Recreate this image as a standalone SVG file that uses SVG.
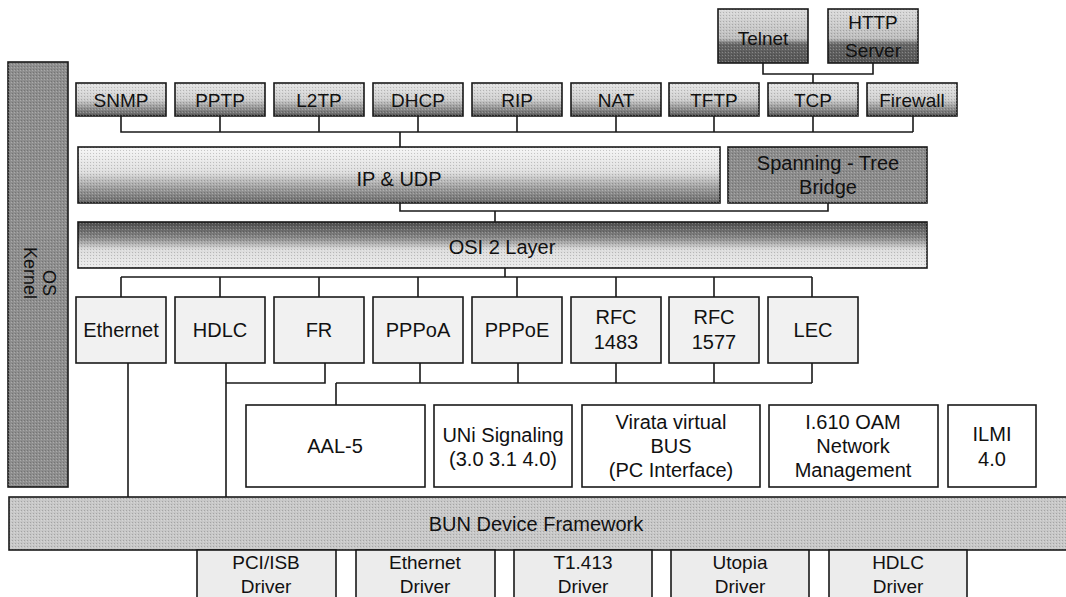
<svg xmlns="http://www.w3.org/2000/svg" width="1066" height="597" viewBox="0 0 1066 597">
<defs>
  <linearGradient id="gTop" x1="0" y1="0" x2="0" y2="1">
    <stop offset="0" stop-color="#e6e6e6"/>
    <stop offset="0.5" stop-color="#cfcfcf"/>
    <stop offset="0.8" stop-color="#8a8a8a"/>
    <stop offset="1" stop-color="#5a5a5a"/>
  </linearGradient>
  <linearGradient id="gApp" x1="0" y1="0" x2="0" y2="1">
    <stop offset="0" stop-color="#dcdcdc"/>
    <stop offset="0.55" stop-color="#bdbdbd"/>
    <stop offset="0.65" stop-color="#666"/>
    <stop offset="1" stop-color="#555"/>
  </linearGradient>
  <linearGradient id="gIP" x1="0" y1="0" x2="0" y2="1">
    <stop offset="0" stop-color="#f6f6f6"/>
    <stop offset="0.45" stop-color="#dedede"/>
    <stop offset="0.75" stop-color="#9a9a9a"/>
    <stop offset="1" stop-color="#6a6a6a"/>
  </linearGradient>
  <linearGradient id="gOSI" x1="0" y1="0" x2="0" y2="1">
    <stop offset="0" stop-color="#4a4a4a"/>
    <stop offset="0.35" stop-color="#8a8a8a"/>
    <stop offset="0.6" stop-color="#dcdcdc"/>
    <stop offset="1" stop-color="#ececec"/>
  </linearGradient>
  <pattern id="dots" width="3" height="3" patternUnits="userSpaceOnUse">
    <rect x="0" y="0" width="1" height="1" fill="#000" fill-opacity="0.18"/>
    <rect x="2" y="1" width="1" height="1" fill="#fff" fill-opacity="0.25"/>
  </pattern>
</defs>
<style>
  rect.b { stroke: #1a1a1a; stroke-width: 1.6; }
  text { font-family: "Liberation Sans", Arial, sans-serif; fill: #111; text-anchor: middle; }
  .t19 { font-size: 19px; }
  .t20 { font-size: 20px; }
  .t18 { font-size: 18px; }
  .top { fill: url(#gTop); }
  .app { fill: url(#gApp); }
  .mid { fill: #f1f1f1; }
  .low { fill: #ffffff; }
  .drv { fill: #ececec; }
  .tex { fill: url(#dots); stroke: none; }
  #connectors path { fill: none; stroke: #1a1a1a; stroke-width: 1.6; }
</style>

<g id="connectors">
  <path d="M763,63 V74 H873 V63 M813,74 V83"/>
  <path d="M121,116 V132 H913 M220,116 V132 M319,116 V132 M418,116 V132 M517,116 V132 M616,116 V132 M714,116 V132 M813,116 V132 M913,116 V132 M400,132 V147"/>
  <path d="M400,203 V211 H828 V203 M495,211 V222"/>
  <path d="M505,268 V277 M121,277 H812 M121,277 V297 M220,277 V297 M319,277 V297 M418,277 V297 M517,277 V297 M616,277 V297 M714,277 V297 M812,277 V297"/>
  <path d="M128,363 V497"/>
  <path d="M226,363 V497 M325,363 V383 H226"/>
  <path d="M420,363 V383 M518,363 V383 M616,363 V383 M714,363 V383 M812,363 V383 M336,383 H812 M336,383 V405"/>
</g>

<g id="os-kernel">
  <rect class="b" x="8" y="62" width="60" height="425" fill="#8e8e8e"/>
  <rect class="tex" x="8" y="62" width="60" height="425"/>
  <text class="t18" transform="translate(43,296) rotate(90)" style="text-anchor:end">OS</text>
  <text class="t18" transform="translate(24,299) rotate(90)" style="text-anchor:end">Kernel</text>
</g>

<g id="telnet">
  <rect class="b app" x="718" y="9" width="90" height="54"/>
  <rect class="tex" x="718" y="9" width="90" height="54"/>
  <text class="t19" x="763" y="45">Telnet</text>
</g>
<g id="http-server">
  <rect class="b app" x="828" y="9" width="90" height="54"/>
  <rect class="tex" x="828" y="9" width="90" height="54"/>
  <text class="t19" x="873" y="29">HTTP</text>
  <text class="t19" x="873" y="57">Server</text>
</g>

<g id="snmp"><rect class="b top" x="76" y="83" width="90" height="33"/><rect class="tex" x="76" y="83" width="90" height="33"/><text class="t19" x="121" y="107">SNMP</text></g>
<g id="pptp"><rect class="b top" x="175" y="83" width="90" height="33"/><rect class="tex" x="175" y="83" width="90" height="33"/><text class="t19" x="220" y="107">PPTP</text></g>
<g id="l2tp"><rect class="b top" x="274" y="83" width="90" height="33"/><rect class="tex" x="274" y="83" width="90" height="33"/><text class="t19" x="319" y="107">L2TP</text></g>
<g id="dhcp"><rect class="b top" x="373" y="83" width="90" height="33"/><rect class="tex" x="373" y="83" width="90" height="33"/><text class="t19" x="418" y="107">DHCP</text></g>
<g id="rip"><rect class="b top" x="472" y="83" width="90" height="33"/><rect class="tex" x="472" y="83" width="90" height="33"/><text class="t19" x="517" y="107">RIP</text></g>
<g id="nat"><rect class="b top" x="571" y="83" width="90" height="33"/><rect class="tex" x="571" y="83" width="90" height="33"/><text class="t19" x="616" y="107">NAT</text></g>
<g id="tftp"><rect class="b top" x="669" y="83" width="90" height="33"/><rect class="tex" x="669" y="83" width="90" height="33"/><text class="t19" x="714" y="107">TFTP</text></g>
<g id="tcp"><rect class="b top" x="768" y="83" width="90" height="33"/><rect class="tex" x="768" y="83" width="90" height="33"/><text class="t19" x="813" y="107">TCP</text></g>
<g id="firewall"><rect class="b top" x="867" y="83" width="90" height="33"/><rect class="tex" x="867" y="83" width="90" height="33"/><text class="t19" x="912" y="107">Firewall</text></g>

<g id="ip-udp">
  <rect class="b" x="78" y="147" width="642" height="56" fill="url(#gIP)"/>
  <rect class="tex" x="78" y="147" width="642" height="56"/>
  <text class="t20" x="399" y="186">IP &amp; UDP</text>
</g>
<g id="spanning-tree">
  <rect class="b" x="728" y="147" width="199" height="56" fill="#8c8c8c"/>
  <rect class="tex" x="728" y="147" width="199" height="56"/>
  <text class="t20" x="828" y="170">Spanning - Tree</text>
  <text class="t20" x="828" y="194">Bridge</text>
</g>

<g id="osi2">
  <rect class="b" x="78" y="222" width="849" height="46" fill="url(#gOSI)"/>
  <rect class="tex" x="78" y="222" width="849" height="46"/>
  <text class="t20" x="502" y="254">OSI 2 Layer</text>
</g>

<g id="ethernet"><rect class="b mid" x="76" y="297" width="90" height="66"/><text class="t20" x="121" y="337">Ethernet</text></g>
<g id="hdlc"><rect class="b mid" x="175" y="297" width="90" height="66"/><text class="t20" x="220" y="337">HDLC</text></g>
<g id="fr"><rect class="b mid" x="274" y="297" width="90" height="66"/><text class="t20" x="319" y="337">FR</text></g>
<g id="pppoa"><rect class="b mid" x="373" y="297" width="90" height="66"/><text class="t20" x="418" y="337">PPPoA</text></g>
<g id="pppoe"><rect class="b mid" x="472" y="297" width="90" height="66"/><text class="t20" x="517" y="337">PPPoE</text></g>
<g id="rfc1483"><rect class="b mid" x="571" y="297" width="90" height="66"/><text class="t20" x="616" y="324">RFC</text><text class="t20" x="616" y="349">1483</text></g>
<g id="rfc1577"><rect class="b mid" x="669" y="297" width="90" height="66"/><text class="t20" x="714" y="324">RFC</text><text class="t20" x="714" y="349">1577</text></g>
<g id="lec"><rect class="b mid" x="768" y="297" width="90" height="66"/><text class="t20" x="813" y="337">LEC</text></g>

<g id="aal5"><rect class="b low" x="246" y="405" width="179" height="82"/><text class="t20" x="335" y="453">AAL-5</text></g>
<g id="uni"><rect class="b low" x="434" y="405" width="138" height="82"/><text class="t20" x="503" y="442">UNi Signaling</text><text class="t20" x="503" y="466">(3.0 3.1 4.0)</text></g>
<g id="virata"><rect class="b low" x="582" y="405" width="178" height="82"/><text class="t20" x="671" y="429">Virata virtual</text><text class="t20" x="671" y="453">BUS</text><text class="t20" x="671" y="477">(PC Interface)</text></g>
<g id="i610"><rect class="b low" x="769" y="405" width="169" height="82"/><text class="t20" x="853" y="429">I.610 OAM</text><text class="t20" x="853" y="453">Network</text><text class="t20" x="853" y="477">Management</text></g>
<g id="ilmi"><rect class="b low" x="948" y="405" width="88" height="82"/><text class="t20" x="992" y="441">ILMI</text><text class="t20" x="992" y="466">4.0</text></g>

<g id="bun">
  <rect class="b" x="9" y="497" width="1060" height="53" fill="#c8c8c8"/>
  <rect class="tex" x="9" y="497" width="1060" height="53"/>
  <text class="t20" x="536" y="531">BUN Device Framework</text>
</g>

<g id="pci-isb"><rect class="b drv" x="197" y="550" width="139" height="52"/><text class="t19" x="266" y="569">PCI/ISB</text><text class="t19" x="266" y="593">Driver</text></g>
<g id="eth-drv"><rect class="b drv" x="356" y="550" width="139" height="52"/><text class="t19" x="425" y="569">Ethernet</text><text class="t19" x="425" y="593">Driver</text></g>
<g id="t1413"><rect class="b drv" x="514" y="550" width="138" height="52"/><text class="t19" x="583" y="569">T1.413</text><text class="t19" x="583" y="593">Driver</text></g>
<g id="utopia"><rect class="b drv" x="671" y="550" width="138" height="52"/><text class="t19" x="740" y="569">Utopia</text><text class="t19" x="740" y="593">Driver</text></g>
<g id="hdlc-drv"><rect class="b drv" x="829" y="550" width="138" height="52"/><text class="t19" x="898" y="569">HDLC</text><text class="t19" x="898" y="593">Driver</text></g>
</svg>
